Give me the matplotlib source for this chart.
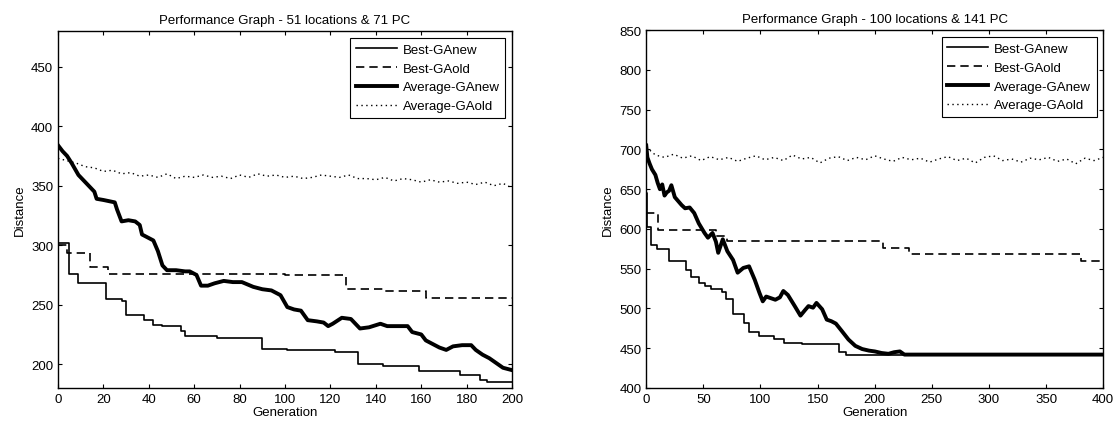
import matplotlib
matplotlib.use('Agg')
from matplotlib import pyplot as plt

plt.rcParams['font.family'] = ['Liberation Sans', 'DejaVu Sans']
plt.rcParams['font.size'] = 9.5

# ---- left panel: 51 locations & 71 PC ----
l_best_new_x = [0, 5, 9, 21, 28, 30, 38, 42, 46, 54, 56, 70, 90, 101, 122, 132, 143, 159, 177, 186, 189, 200]
l_best_new_y = [302, 276, 268, 255, 253, 241, 237, 233, 232, 228, 224, 222, 213, 212, 210, 200.5, 198.5, 194, 191, 186.5, 185, 185]

l_best_old_x = [0, 4, 14, 22, 100, 127, 143, 162, 200]
l_best_old_y = [300, 293.5, 281.5, 276, 275, 263, 261.5, 256, 256]

l_avg_new_x = [0, 2, 4, 6, 9, 13, 16, 17, 20, 25, 26, 28, 31, 34, 36, 37, 40, 42, 44, 46,
               48, 52, 56, 58, 61, 63, 66, 69, 73, 77, 81, 86, 90, 94, 98, 101, 104, 107, 110, 114,
               117, 119, 121, 125, 129, 133, 137, 142, 145, 150, 154, 156, 160, 162, 165, 168, 171, 174, 178, 182,
               184, 187, 190, 193, 196, 200]
l_avg_new_y = [384, 379, 375, 369, 359, 351, 345, 339, 338, 336, 330, 320, 321, 320, 317, 309, 306, 304, 295, 283,
               279, 279, 278, 278, 275, 266, 266, 268, 270, 269, 269, 265, 263, 262, 258, 248, 246, 245, 237, 236,
               235, 232, 234, 239, 238, 230, 231, 234, 232, 232, 232, 227, 225, 220, 217, 214, 212, 215, 216, 216,
               212, 208, 205, 201, 197, 195]

l_avg_old_x = list(range(0, 201, 4))
l_avg_old_y = [373, 371, 369, 366, 365, 362, 363, 360, 361, 358, 359, 357, 360, 356, 358, 357, 359, 357, 358, 356,
               359, 357, 360, 358, 359, 357, 358, 356, 357, 359, 358, 357, 359, 356, 356, 355, 357, 354, 356, 355,
               353, 355, 353, 354, 352, 353, 351, 353, 350, 352, 348]

# ---- right panel: 100 locations & 141 PC ----
r_best_new_x = [0, 1, 4, 9, 20, 35, 39, 46, 51, 57, 66, 70, 76, 86, 90, 99, 112, 121, 136, 169, 175, 400]
r_best_new_y = [645, 603, 580, 575, 560, 549, 540, 532, 528, 525, 521, 511.5, 493, 482, 470.5, 465.5, 461.5, 457, 455, 445, 442, 442]

r_best_old_x = [0, 10, 61, 71, 207, 230, 381, 400]
r_best_old_y = [620, 599, 591.5, 584.5, 575.5, 569, 559.5, 559.5]

r_avg_new_x = [0, 1, 3, 5, 8, 10, 12, 14, 16, 18, 20, 22, 25, 28, 31, 34, 38, 42, 46, 51,
               54, 58, 61, 63, 67, 71, 76, 80, 85, 90, 95, 99, 102, 105, 109, 113, 117, 120, 124, 127,
               130, 135, 139, 142, 146, 149, 154, 158, 162, 166, 171, 177, 183, 189, 195, 200, 206, 212, 217, 222,
               226, 400]
r_avg_new_y = [705, 690, 682, 675, 668, 658, 650, 656, 642, 646, 648, 655, 640, 635, 630, 626, 627, 620, 607, 595,
               589, 595, 584, 570, 587, 572, 561, 545, 551, 553, 536, 520, 509, 515, 513, 511, 514, 522, 517, 510,
               503, 491, 498, 503, 501, 507, 499, 486, 484, 481, 472, 461, 453, 449, 447, 446, 444, 443, 445, 446,
               442, 442]

r_avg_old_x = list(range(0, 401, 8))
r_avg_old_y = [703, 693, 690, 694, 689, 692, 686, 691, 687, 690, 685, 689, 692, 687, 690, 686, 693, 688, 690, 683,
               689, 691, 686, 690, 687, 692, 688, 685, 690, 687, 689, 684, 688, 691, 686, 689, 683, 690, 692, 686,
               688, 684, 689, 687, 690, 685, 688, 682, 689, 686, 690]

labels = ['Best-GAnew', 'Best-GAold', 'Average-GAnew', 'Average-GAold']

fig = plt.figure(figsize=(11.2, 4.27), dpi=100)
ax1 = fig.add_axes([0.0518, 0.089, 0.4054, 0.836])
ax2 = fig.add_axes([0.577, 0.089, 0.408, 0.838])


def draw(ax, bnx, bny, box, boy, anx, any_, aox, aoy):
    ax.plot(bnx, bny, color='k', lw=1.2, drawstyle='steps-post', label=labels[0])
    ax.plot(box, boy, color='k', lw=1.2, ls=(0, (5, 3)), drawstyle='steps-post', label=labels[1])
    ax.plot(anx, any_, color='k', lw=2.8, label=labels[2])
    ax.plot(aox, aoy, color='k', lw=1.0, ls=(0, (1, 2.5)), label=labels[3])
    ax.tick_params(direction='in', top=True, right=True, length=3, width=0.8, labelsize=9.5)
    for s in ax.spines.values():
        s.set_linewidth(1.0)
    ax.set_xlabel('Generation', fontsize=9.5, labelpad=1)
    ax.set_ylabel('Distance', fontsize=9.5)
    leg = ax.legend(loc='upper right', fontsize=9.5, fancybox=False, framealpha=1,
                    edgecolor='k', handlelength=3.1, handletextpad=0.4,
                    borderaxespad=0.5, labelspacing=0.5, borderpad=0.45)
    leg.get_frame().set_linewidth(0.8)


draw(ax1, l_best_new_x, l_best_new_y, l_best_old_x, l_best_old_y,
     l_avg_new_x, l_avg_new_y, l_avg_old_x, l_avg_old_y)
ax1.set_xlim(0, 200)
ax1.set_ylim(180, 480)
ax1.set_xticks(range(0, 201, 20))
ax1.set_yticks(range(200, 451, 50))
ax1.set_title('Performance Graph - 51 locations & 71 PC', fontsize=9.5, pad=6)

draw(ax2, r_best_new_x, r_best_new_y, r_best_old_x, r_best_old_y,
     r_avg_new_x, r_avg_new_y, r_avg_old_x, r_avg_old_y)
ax2.set_xlim(0, 400)
ax2.set_ylim(400, 850)
ax2.set_xticks(range(0, 401, 50))
ax2.set_yticks(range(400, 851, 50))
ax2.set_title('Performance Graph - 100 locations & 141 PC', fontsize=9.5, pad=6)

fig.savefig('out.png', dpi=100)
